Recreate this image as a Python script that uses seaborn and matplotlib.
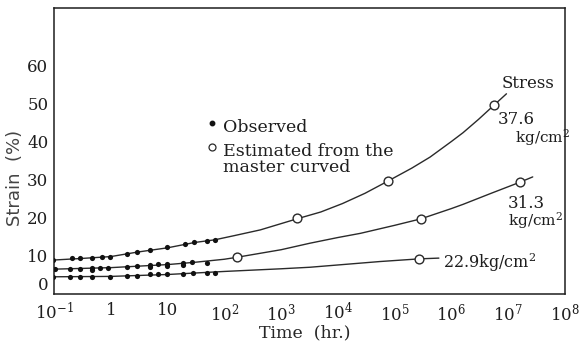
import numpy as np
import pandas as pd
import matplotlib
matplotlib.use("Agg")
import matplotlib.pyplot as plt
import seaborn as sns

# ---- data -------------------------------------------------------------
stress_levels = ["37.6", "31.3", "22.9"]

# master curves (time in hours, strain in %)
curve_376_t = [0.1, 0.3, 1, 3, 10, 30, 68, 150, 430, 1900, 5e3, 1.2e4, 3e4, 7.6e4,
               2e5, 4.2e5, 1e6, 1.6e6, 3e6, 5.6e6, 9.3e6]
curve_376_s = [8.9, 9.3, 9.8, 11.0, 12.1, 13.5, 14.2, 15.3, 16.8, 19.7, 21.5, 23.7, 26.4,
               29.6, 33.0, 35.9, 40.0, 42.3, 45.8, 49.5, 52.5]

curve_313_t = [0.1, 1, 10, 30, 100, 164, 1000, 3.2e3, 1e4, 2.5e4, 1e5, 2.9e5, 1e6,
               1.6e6, 5e6, 1.6e7, 2.7e7]
curve_313_s = [6.5, 6.9, 7.7, 8.3, 9.1, 9.6, 11.6, 13.3, 14.8, 15.9, 18.0, 19.7, 22.4,
               23.5, 26.4, 29.3, 30.7]

curve_229_t = [0.1, 1, 10, 100, 1000, 3.2e3, 1e4, 5.5e4, 2.7e5, 6e5]
curve_229_s = [4.5, 4.6, 5.1, 5.9, 6.6, 7.0, 7.6, 8.5, 9.2, 9.4]

# observed creep strain
obs_376_t = [0.097, 0.205, 0.287, 0.46, 0.69, 0.97, 1.9, 2.86, 4.9, 9.6, 20, 29, 49, 68]
obs_376_s = [8.9, 9.3, 9.3, 9.5, 9.6, 9.8, 10.6, 11.1, 11.5, 12.2, 13.1, 13.7, 13.9, 14.1]

obs_313_t = [0.104, 0.19, 0.287, 0.46, 0.46, 0.64, 0.9, 1.9, 2.86, 4.9, 4.9, 6.8, 9.6, 9.6,
             19, 19, 27, 49]
obs_313_s = [6.5, 6.5, 6.5, 6.7, 6.2, 6.9, 6.9, 7.0, 7.2, 7.6, 7.1, 7.8, 7.8, 7.3, 8.0, 7.5,
             8.5, 8.2]

obs_229_t = [0.097, 0.19, 0.287, 0.46, 0.97, 1.9, 2.86, 4.9, 6.8, 9.6, 19, 28, 49, 68]
obs_229_s = [4.5, 4.5, 4.5, 4.5, 4.5, 4.7, 4.7, 5.2, 5.2, 5.1, 5.2, 5.6, 5.4, 5.4]

# values estimated from the master curve
est_376_t = [1.9e3, 7.6e4, 5.6e6]
est_376_s = [19.8, 29.6, 49.5]
est_313_t = [164, 2.9e5, 1.6e7]
est_313_s = [9.7, 19.7, 29.3]
est_229_t = [2.7e5]
est_229_s = [9.2]

x_ticks = [1e-1, 1, 10, 1e2, 1e3, 1e4, 1e5, 1e6, 1e7, 1e8]
x_tick_labels = [r"$10^{-1}$", "1", "10", r"$10^{2}$", r"$10^{3}$", r"$10^{4}$",
                 r"$10^{5}$", r"$10^{6}$", r"$10^{7}$", r"$10^{8}$"]
y_ticks = [0, 10, 20, 30, 40, 50, 60]

# ---- tidy frames ------------------------------------------------------
curves = pd.concat([
    pd.DataFrame({"t": curve_376_t, "s": curve_376_s, "stress": stress_levels[0]}),
    pd.DataFrame({"t": curve_313_t, "s": curve_313_s, "stress": stress_levels[1]}),
    pd.DataFrame({"t": curve_229_t, "s": curve_229_s, "stress": stress_levels[2]}),
], ignore_index=True)
observed = pd.DataFrame({"t": obs_376_t + obs_313_t + obs_229_t,
                         "s": obs_376_s + obs_313_s + obs_229_s})
estimated = pd.DataFrame({"t": est_376_t + est_313_t + est_229_t,
                          "s": est_376_s + est_313_s + est_229_s})

# ---- style ------------------------------------------------------------
sns.set_theme(style="white")
ink = "#1e1e1e"
plt.rcParams.update({
    "font.family": ["DejaVu Serif"],
    "mathtext.fontset": "dejavuserif",
    "axes.edgecolor": ink,
    "text.color": ink,
    "xtick.color": ink,
    "ytick.color": ink,
})

fig = plt.figure(figsize=(5.84, 3.41), dpi=100)
ax = fig.add_axes([0.0925, 0.138, 0.875, 0.8385])

sns.lineplot(data=curves, x="t", y="s", hue="stress", units="stress",
             estimator=None, sort=False, legend=False,
             palette={k: "#2a2a2a" for k in stress_levels},
             linewidth=1.0, ax=ax)
sns.scatterplot(data=observed, x="t", y="s", color="#111111", s=14,
                marker="o", edgecolor="#111111", linewidth=0, ax=ax, zorder=3)
sns.scatterplot(data=estimated, x="t", y="s", facecolor="white", s=40,
                marker="o", edgecolor="#2a2a2a", linewidth=1.0, ax=ax, zorder=4)

ax.set_xscale("log")
ax.set_xlim(1e-1, 1e8)
ax.set_ylim(0, 75)
ax.set_xticks(x_ticks)
ax.set_xticklabels(x_tick_labels)
ax.xaxis.set_minor_locator(matplotlib.ticker.NullLocator())
ax.set_yticks(y_ticks)
ax.tick_params(axis="x", direction="in", length=4, width=1, labelsize=12, pad=6)
ax.tick_params(axis="y", direction="out", length=3, width=1, labelsize=12, pad=1)
for sp in ax.spines.values():
    sp.set_linewidth(1.1)
# lift the "0" label so it clears the 10^-1 label below the corner
ax.get_yticklabels()[0].set_verticalalignment("bottom")

ax.set_xlabel("Time  (hr.)", fontsize=12.5)
ax.xaxis.set_label_coords(0.491, -0.105)
ax.set_ylabel("Strain  (%)", fontsize=13, family=["DejaVu Sans"], color="#444444")
ax.yaxis.set_label_coords(-0.058, 0.405)

# stress labels at the curve ends
ax.text(7.7e6, 53.9, "Stress", fontsize=12, va="baseline")
ax.text(6.6e6, 44.6, "37.6", fontsize=12, va="baseline")
ax.text(1.3e7, 39.8, r"kg/cm$^{2}$", fontsize=11, va="baseline")
ax.text(9.8e6, 22.5, "31.3", fontsize=12, va="baseline")
ax.text(9.8e6, 17.8, r"kg/cm$^{2}$", fontsize=11, va="baseline")
ax.text(7.1e5, 6.8, r"22.9kg/cm$^{2}$", fontsize=11.5, va="baseline")

# key
ax.plot([0.309], [0.598], "o", ms=3.2, color="#111111", transform=ax.transAxes)
ax.plot([0.309], [0.514], "o", ms=5, mfc="white", mec="#2a2a2a", mew=0.9,
        transform=ax.transAxes)
ax.text(0.331, 0.568, "Observed", fontsize=12.5, transform=ax.transAxes, va="baseline")
ax.text(0.331, 0.484, "Estimated from the", fontsize=12.5, transform=ax.transAxes,
        va="baseline")
ax.text(0.331, 0.428, "master curved", fontsize=12.5, transform=ax.transAxes,
        va="baseline")

fig.savefig("out.png", dpi=100, facecolor="white")
